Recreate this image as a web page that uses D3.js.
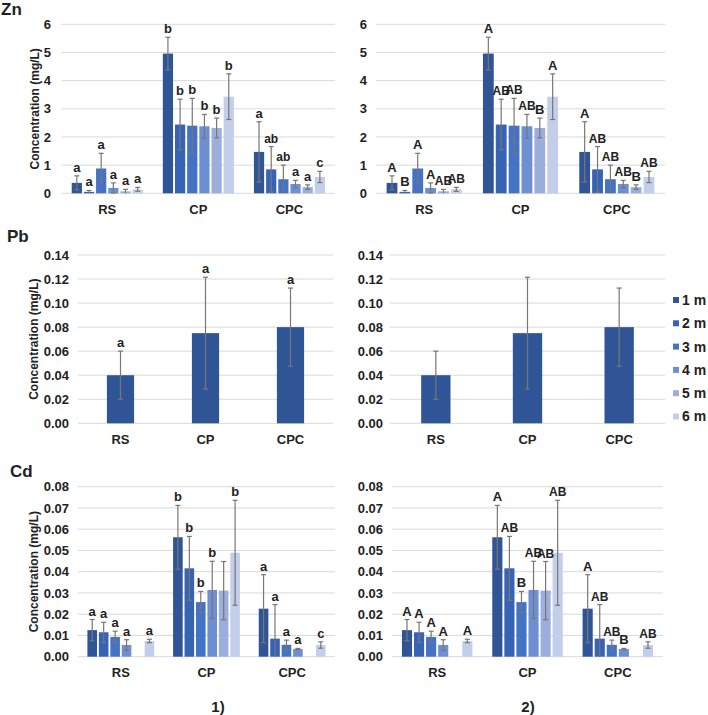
<!DOCTYPE html>
<html>
<head>
<meta charset="utf-8">
<script src="https://cdn.jsdelivr.net/npm/d3@7"></script>
<style>
  body { margin: 0; background: #fff; }
  svg text { font-family: "Liberation Sans", Arial, sans-serif; font-weight: bold; fill: #222; }
</style>
</head>
<body>
<svg id="chart" width="708" height="715"></svg>
<script>
// ---------- DATA ----------
const categories = ["RS", "CP", "CPC"];
const series = ["1 m", "2 m", "3 m", "4 m", "5 m", "6 m"];
const seriesColors = ["#2F5597", "#3763B5", "#4472C4", "#6F8FD3", "#9CAEDC", "#C3CEEA"];

const znTicks = [0, 1, 2, 3, 4, 5, 6];
const znMean = [
  [0.37, 0.05, 0.88, 0.19, 0.07, 0.14],
  [4.96, 2.44, 2.40, 2.38, 2.32, 3.43],
  [1.47, 0.85, 0.50, 0.33, 0.22, 0.58]
];
const znErr = [
  [0.25, 0.05, 0.54, 0.18, 0.07, 0.07],
  [0.58, 0.90, 0.97, 0.42, 0.35, 0.81],
  [1.07, 0.81, 0.50, 0.13, 0.08, 0.20]
];
const znLettersLeft = [
  ["a", "a", "a", "a", "a", "a"],
  ["b", "b", "b", "b", "b", "b"],
  ["a", "ab", "ab", "a", "a", "c"]
];
const znLettersRight = [
  ["A", "B", "A", "A", "AB", "AB"],
  ["A", "AB", "AB", "AB", "B", "A"],
  ["A", "AB", "AB", "AB", "B", "AB"]
];

const pbTicks = [0, 0.02, 0.04, 0.06, 0.08, 0.10, 0.12, 0.14];
const pbMean = [[0.040], [0.075], [0.080]];
const pbErr = [[0.020], [0.0465], [0.0325]];
const pbLettersLeft = [["a"], ["a"], ["a"]];
const pbLettersRight = [[""], [""], [""]];

const cdTicks = [0, 0.01, 0.02, 0.03, 0.04, 0.05, 0.06, 0.07, 0.08];
const cdMean = [
  [0.0125, 0.0115, 0.0093, 0.0055, null, 0.0074],
  [0.0562, 0.0416, 0.0257, 0.0314, 0.0311, 0.0489],
  [0.0226, 0.0085, 0.0056, 0.0036, null, 0.0055]
];
const cdErr = [
  [0.0050, 0.0047, 0.0027, 0.0025, null, 0.0008],
  [0.0150, 0.0150, 0.0050, 0.0135, 0.0137, 0.0247],
  [0.0160, 0.0160, 0.0022, 0.0003, null, 0.0015]
];
const cdLettersLeft = [
  ["a", "a", "a", "a", "", "a"],
  ["b", "b", "b", "b", "", "b"],
  ["a", "a", "a", "a", "", "c"]
];
const cdLettersRight = [
  ["A", "A", "A", "A", "", "A"],
  ["A", "AB", "B", "AB", "AB", "AB"],
  ["A", "AB", "AB", "B", "", "AB"]
];

// ---------- DRAW ----------
const svg = d3.select("#chart");

function panel(opt) {
  const g = svg.append("g");
  const y = d3.scaleLinear().domain([0, opt.ymax]).range([opt.y0, opt.ytop]);
  const x0 = d3.scaleBand().domain(categories).range([opt.xl, opt.xr])
    .paddingInner(opt.padIn).paddingOuter(opt.padOut);
  const nS = opt.mean[0].length;
  const x1 = d3.scaleBand().domain(series.slice(0, nS)).range([0, x0.bandwidth()])
    .paddingInner(opt.subPad).paddingOuter(0);

  // gridlines
  g.append("g").selectAll("line").data(opt.ticks).join("line")
    .attr("x1", opt.xl).attr("x2", opt.xr)
    .attr("y1", d => y(d)).attr("y2", d => y(d))
    .attr("stroke", "#d9d9d9").attr("stroke-width", 1);

  // y axis
  const yAxis = d3.axisLeft(y).tickValues(opt.ticks).tickFormat(opt.fmt).tickSize(0).tickPadding(0);
  const ya = g.append("g").attr("transform", `translate(${opt.tickX},0)`).call(yAxis);
  ya.select(".domain").remove();
  ya.selectAll("text").attr("font-size", 13).attr("fill", "#222")
    .style("font-family", "'Liberation Sans', Arial, sans-serif").style("font-weight", "bold");

  // x axis category labels
  const xAxis = d3.axisBottom(x0).tickSize(0).tickPadding(0);
  const xa = g.append("g").attr("transform", `translate(0,${opt.y0 + 11})`).call(xAxis);
  xa.select(".domain").remove();
  xa.selectAll("text").attr("font-size", 13).attr("fill", "#222")
    .style("font-family", "'Liberation Sans', Arial, sans-serif").style("font-weight", "bold");

  // bars
  const items = [];
  categories.forEach((c, ci) => {
    opt.mean[ci].forEach((v, si) => {
      if (v === null) return;
      items.push({ c, ci, si, v, e: opt.err[ci][si], l: opt.letters[ci][si] });
    });
  });
  const bx = d => x0(d.c) + x1(series[d.si]);
  g.append("g").selectAll("rect").data(items).join("rect")
    .attr("x", bx).attr("width", x1.bandwidth())
    .attr("y", d => y(d.v)).attr("height", d => y(0) - y(d.v))
    .attr("fill", d => seriesColors[d.si]);

  // error bars
  const eg = g.append("g").attr("stroke", "#777").attr("stroke-width", 1.2);
  const cap = 2.5;
  items.forEach(d => {
    const cx = bx(d) + x1.bandwidth() / 2;
    const hi = d.v + d.e, lo = Math.max(0, d.v - d.e);
    eg.append("line").attr("x1", cx).attr("x2", cx).attr("y1", y(hi)).attr("y2", y(lo));
    eg.append("line").attr("x1", cx - cap).attr("x2", cx + cap).attr("y1", y(hi)).attr("y2", y(hi));
    if (lo > 0) eg.append("line").attr("x1", cx - cap).attr("x2", cx + cap).attr("y1", y(lo)).attr("y2", y(lo));
  });

  // significance letters
  g.append("g").selectAll("text").data(items.filter(d => d.l)).join("text")
    .attr("x", d => bx(d) + x1.bandwidth() / 2)
    .attr("y", d => y(d.v + d.e) - 4)
    .attr("text-anchor", "middle").attr("font-size", d => d.l.length > 1 ? 12 : 13)
    .text(d => d.l);

  if (opt.ytitle) {
    g.append("text")
      .attr("transform", `translate(${opt.ytitleX},${(opt.y0 + opt.ytop) / 2}) rotate(-90)`)
      .attr("text-anchor", "middle").attr("dy", "0.35em").attr("font-size", 12)
      .text("Concentration (mg/L)");
  }
}

const groupedPad = { padIn: 0.22, padOut: 0.11, subPad: 0.16 };
const singlePad = { padIn: 0.68, padOut: 0.34, subPad: 0 };

// Zn
panel(Object.assign({ xl: 61.7, xr: 335, y0: 193.3, ytop: 24.3, ymax: 6, ticks: znTicks, fmt: d3.format("d"),
  tickX: 51, mean: znMean, err: znErr, letters: znLettersLeft, ytitle: true, ytitleX: 35 }, groupedPad));
panel(Object.assign({ xl: 376, xr: 665, y0: 193.3, ytop: 24.3, ymax: 6, ticks: znTicks, fmt: d3.format("d"),
  tickX: 367, mean: znMean, err: znErr, letters: znLettersRight, ytitle: false }, groupedPad));
// Pb
panel(Object.assign({ xl: 78, xr: 333, y0: 423.3, ytop: 255, ymax: 0.14, ticks: pbTicks, fmt: d3.format(".2f"),
  tickX: 69, mean: pbMean, err: pbErr, letters: pbLettersLeft, ytitle: true, ytitleX: 34 }, singlePad));
panel(Object.assign({ xl: 390, xr: 665, y0: 423.3, ytop: 255, ymax: 0.14, ticks: pbTicks, fmt: d3.format(".2f"),
  tickX: 383, mean: pbMean, err: pbErr, letters: pbLettersRight, ytitle: false }, singlePad));
// Cd
panel(Object.assign({ xl: 78, xr: 335, y0: 656.7, ytop: 486.7, ymax: 0.08, ticks: cdTicks, fmt: d3.format(".2f"),
  tickX: 69, mean: cdMean, err: cdErr, letters: cdLettersLeft, ytitle: true, ytitleX: 34 }, groupedPad));
panel(Object.assign({ xl: 392, xr: 663, y0: 656.7, ytop: 486.7, ymax: 0.08, ticks: cdTicks, fmt: d3.format(".2f"),
  tickX: 383, mean: cdMean, err: cdErr, letters: cdLettersRight, ytitle: false }, groupedPad));

// panel titles
svg.append("text").attr("x", 1).attr("y", 15).attr("font-size", 17).text("Zn");
svg.append("text").attr("x", 7).attr("y", 242).attr("font-size", 17).text("Pb");
svg.append("text").attr("x", 10).attr("y", 477).attr("font-size", 17).text("Cd");

// bottom labels
svg.append("text").attr("x", 218).attr("y", 712).attr("text-anchor", "middle").attr("font-size", 15).text("1)");
svg.append("text").attr("x", 528).attr("y", 712).attr("text-anchor", "middle").attr("font-size", 15).text("2)");

// legend
const lg = svg.append("g");
series.forEach((s, i) => {
  const yy = 300 + i * 23.3;
  lg.append("rect").attr("x", 673).attr("y", yy - 3).attr("width", 6).attr("height", 6).attr("fill", seriesColors[i]);
  lg.append("text").attr("x", 682).attr("y", yy).attr("dy", "0.35em").attr("font-size", 14).text(s);
});
</script>
</body>
</html>
